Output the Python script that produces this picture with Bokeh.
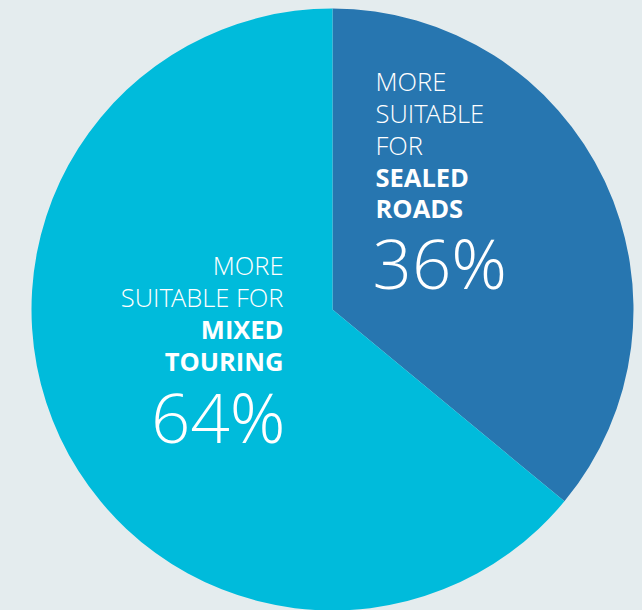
import math
from bokeh.plotting import figure
from bokeh.models import ColumnDataSource
from bokeh.core.properties import value
from bokeh.embed import file_html
from bokeh.resources import INLINE

# ---- data ----
categories = ["Sealed roads", "Mixed touring"]
shares = [36, 64]
slice_colors = ["#2776b0", "#00bbdb"]
light_lines = [["MORE", "SUITABLE", "FOR"], ["MORE", "SUITABLE FOR"]]
bold_lines = [["SEALED", "ROADS"], ["MIXED", "TOURING"]]
pct_labels = [f"{s}%" for s in shares]

BG = "#e4ecee"
W, H = 642, 610


def dy(page_y):
    return H - page_y


def dx(page_x):
    return page_x


p = figure(width=W, height=H, output_backend="svg", toolbar_location=None,
           x_range=(0, W), y_range=(0, H), min_border=0)
p.axis.visible = False
p.grid.visible = False
p.outline_line_color = None
p.background_fill_color = BG
p.border_fill_color = BG

cx, cy, r = dx(332), dy(309), 301

total = sum(shares)
starts, ends = [], []
acc = 0.0
for s in shares:
    a0 = math.pi / 2 - 2 * math.pi * acc / total
    acc += s
    a1 = math.pi / 2 - 2 * math.pi * acc / total
    starts.append(a1)
    ends.append(a0)

src = ColumnDataSource(dict(x=[cx] * len(shares), y=[cy] * len(shares),
                            start=starts, end=ends, color=slice_colors,
                            cat=categories))
p.wedge(x="x", y="y", radius=r, start_angle="start", end_angle="end",
        fill_color="color", line_color=None, source=src)

light_font = value("'Open Sans Light', 'Open Sans'")
bold_font = value("Open Sans")

# label layout (page coords, glyph bottoms)
layouts = [
    dict(x=375, align="left", light=[92, 124, 156], bold=[188, 219], pct=289),
    dict(x=283, align="right", light=[276, 308], bold=[340, 372], pct=443),
]
SMALL_OFF = 12
BIG_OFF = 28

for i, lay in enumerate(layouts):
    xs = dx(lay["x"])
    p.text(x=[xs] * len(light_lines[i]),
           y=[dy(v - SMALL_OFF) for v in lay["light"]],
           text=light_lines[i], text_font=light_font, text_font_size="25.5px",
           text_color="white", text_align=lay["align"],
           text_baseline="alphabetic")
    p.text(x=[xs] * len(bold_lines[i]),
           y=[dy(v - SMALL_OFF) for v in lay["bold"]],
           text=bold_lines[i], text_font=bold_font, text_font_size="25.5px",
           text_font_style="bold", text_color="white",
           text_align=lay["align"], text_baseline="alphabetic")
    p.text(x=[xs - (3 if lay["align"] == "left" else -2)],
           y=[dy(lay["pct"] - BIG_OFF)],
           text=[pct_labels[i]], text_font=light_font, text_font_size="69px",
           text_color="white", text_align=lay["align"],
           text_baseline="alphabetic")

html = file_html(p, INLINE)
html = html.replace("<head>", "<head><style>html,body{background:%s;}</style>" % BG, 1)
open("out.html", "w").write(html)
